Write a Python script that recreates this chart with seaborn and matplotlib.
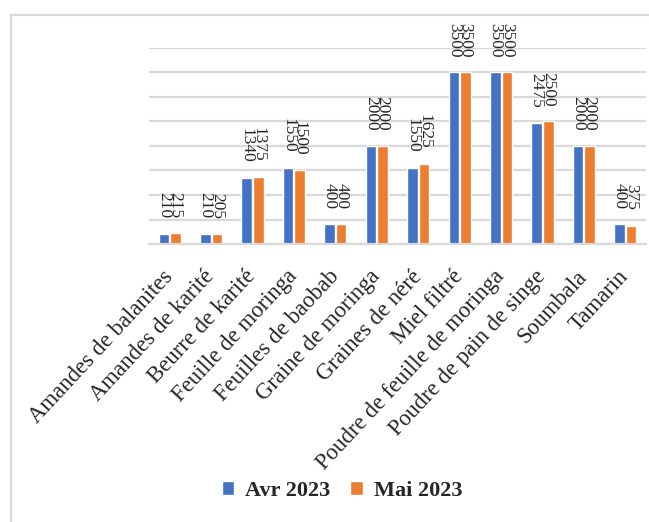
import pandas as pd
import matplotlib.pyplot as plt
import seaborn as sns
from matplotlib.patches import Rectangle

produits = ['Amandes de balanites', 'Amandes de karité', 'Beurre de karité',
            'Feuille de moringa', 'Feuilles de baobab', 'Graine de moringa',
            'Graines de néré', 'Miel filtré', 'Poudre de feuille de moringa',
            'Poudre de pain de singe', 'Soumbala', 'Tamarin']
avr_2023 = [210, 210, 1340, 1550, 400, 2000, 1550, 3500, 3500, 2475, 2000, 400]
mai_2023 = [215, 205, 1375, 1500, 400, 2000, 1625, 3500, 3500, 2500, 2000, 375]
mois = ['Avr 2023', 'Mai 2023']
couleurs = ['#4472C4', '#ED7D31']

df = pd.DataFrame({
    'produit': produits * 2,
    'mois': [mois[0]] * len(produits) + [mois[1]] * len(produits),
    'valeur': avr_2023 + mai_2023,
})

sns.set_style('white')
plt.rcParams['font.family'] = ['Liberation Serif', 'DejaVu Serif']

fig = plt.figure(figsize=(6.49, 5.22), dpi=100)
ax = fig.add_axes([149 / 649, 1 - 244 / 522, (646 - 149) / 649, (244 - 48) / 522])

sns.barplot(data=df, x='produit', y='valeur', hue='mois', palette=couleurs,
            width=0.56, gap=0.09, saturation=1, errorbar=None, ax=ax)

ax.set_ylim(0, 4000)
ax.set_yticks(range(0, 4001, 500))
ax.set_yticklabels([])
ax.tick_params(axis='y', length=0)
ax.yaxis.grid(True, color='#d9d9d9', lw=1.6)
ax.set_axisbelow(True)
for s in ['top', 'right', 'left']:
    ax.spines[s].set_visible(False)
ax.spines['bottom'].set_color('#d9d9d9')
ax.spines['bottom'].set_linewidth(1.6)
ax.set_xlabel('')
ax.set_ylabel('')

# étiquettes de données, tournées comme dans Excel
for cont in ax.containers:
    ax.bar_label(cont, labels=[f'{v:.0f}' for v in cont.datavalues],
                 rotation=270, padding=11, fontsize=12.5)

ax.set_xticks(range(len(produits)))
ax.set_xticklabels(produits, rotation=47, ha='right', va='center',
                   rotation_mode='anchor', fontsize=16.4)
ax.tick_params(axis='x', length=0, pad=21)

ax.legend_.remove()
handles, labels = ax.get_legend_handles_labels()
fig.legend(handles, labels, loc='center', ncol=2, frameon=False,
           bbox_to_anchor=(342 / 649, 1 - 491 / 522),
           prop={'weight': 'bold', 'size': 16},
           handlelength=0.55, handleheight=0.55, handletextpad=0.5, columnspacing=0.9)

# cadre gris autour du graphique
fig.add_artist(Rectangle((11 / 649, -0.05), 1.2, 1 - 15 / 522 + 0.05,
                         transform=fig.transFigure, fill=False,
                         edgecolor='#d9d9d9', lw=1.6))

fig.savefig('out.png', dpi=100)
